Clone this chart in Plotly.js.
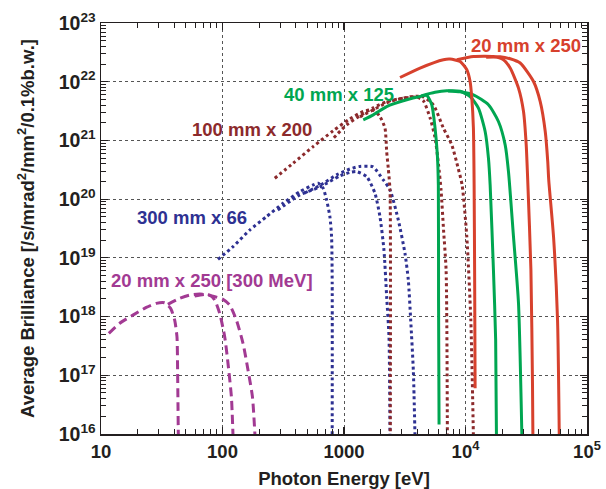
<!DOCTYPE html>
<html>
<head>
<meta charset="utf-8">
<script src="https://cdn.plot.ly/plotly-3.0.1.min.js"></script>
<style>html,body{margin:0;padding:0;background:#fff;}#chart{width:606px;height:489px;}</style>
</head>
<body>
<div id="chart"></div>
<script>
// ---- Data (photon energy in eV, average brilliance) ----
// 20 mm x 250 (red, solid)
const red1E = [2891, 4226, 6577, 7464, 9028, 10250, 10911, 11271, 11618, 11774, 11885, 11998];
const red1B = [1.18e22, 1.71e22, 2.37e22, 2.43e22, 2.21e22, 1.60e22, 1.01e22, 5.26e21, 1.62e21, 1.75e20, 6.2e18, 6.0e16];
const red3E = [8479, 11618, 16982, 20535, 23320, 27300, 30020, 31600, 32510, 34550, 35610, 35880];
const red3B = [2.37e22, 2.69e22, 2.69e22, 2.37e22, 1.71e22, 7.79e21, 3.11e21, 8.4e20, 2.13e20, 6.2e18, 6.3e16, 9e15];
const red5E = [14785, 19290, 23320, 28190, 36290, 41210, 45320, 47530, 48420, 53040, 57230, 59120];
const red5B = [2.61e22, 2.66e22, 2.46e22, 2.08e22, 1.01e22, 4.60e21, 1.42e21, 4.36e20, 2.13e20, 2.29e19, 8.7e17, 9e15];

// 40 mm x 125 (green, solid)
const grn1E = [1440, 1741, 2245, 3282, 4226, 4797, 5277, 5616, 5866, 5978, 6001, 6058];
const grn1B = [2.24e21, 2.73e21, 3.78e21, 4.92e21, 5.60e21, 5.87e21, 4.04e21, 1.62e21, 5.67e20, 1.75e20, 1.91e18, 1.45e16];
const grn3E = [4305, 5616, 7013, 9028, 10911, 12777, 14510, 15450, 15950, 16982, 17710, 17980];
const grn3B = [5.75e21, 6.60e21, 7.0e21, 6.87e21, 5.60e21, 3.55e21, 1.42e21, 4.98e20, 1.75e20, 6.2e18, 3.97e17, 9e15];
const grn5E = [7190, 9028, 11618, 15450, 18670, 21210, 22580, 24830, 27300, 29120];
const grn5B = [6.95e21, 6.73e21, 5.98e21, 4.04e21, 2.10e21, 8.4e20, 2.94e20, 2.29e19, 1.70e18, 9e15];

// 100 mm x 200 (dark red, dotted)
const drd1E = [269.3, 381.3, 557.3, 814.7, 1119, 1440, 1741, 1977, 2174, 2245, 2314, 2390, 2413, 2404];
const drd1B = [2.27e20, 4.09e20, 7.86e20, 1.46e21, 2.33e21, 3.11e21, 3.32e21, 2.55e21, 1.62e21, 6.46e20, 3.36e20, 1.44e20, 1.91e18, 9e15];
const drd3E = [825.4, 1050, 1352, 1741, 2245, 3076, 3967, 4498, 5108, 5616, 6000, 6290, 6597, 6922, 7094];
const drd3B = [1.11e21, 1.84e21, 2.62e21, 3.59e21, 4.60e21, 5.26e21, 5.49e21, 4.73e21, 2.43e21, 1.11e21, 3.83e20, 1.44e20, 2.98e19, 6.2e18, 9e15];
const drd5E = [1352, 1741, 2245, 2891, 3720, 4498, 5438, 6577, 7709, 8690, 9376, 10250, 11060, 11618];
const drd5B = [2.52e21, 3.32e21, 4.37e21, 5.11e21, 5.64e21, 5.53e21, 4.04e21, 1.62e21, 8.4e20, 3.40e20, 1.75e20, 2.29e19, 8.7e17, 9e15];

// 300 mm x 66 (blue, dotted)
const blu1E = [91.8, 122.1, 167.6, 230.1, 315.3, 432.9, 557.3, 612.8, 673.7, 718.9, 765.4, 790.4, 799.4, 799.4];
const blu1B = [9.44e18, 1.55e19, 2.98e19, 5.03e19, 8.51e19, 1.34e20, 1.75e20, 1.87e20, 1.53e20, 9.7e19, 5.03e19, 2.29e19, 3.72e18, 9e15];
const blu3E = [285.2, 432.9, 632.9, 925.2, 1119, 1270, 1536, 1797, 1977, 2132, 2245, 2346, 2390];
const blu3B = [6.54e19, 1.18e20, 1.61e20, 2.49e20, 2.85e20, 2.94e20, 2.42e20, 1.26e20, 5.03e19, 1.36e19, 2.17e18, 4.51e17, 9e15];
const blu5E = [476.1, 632.9, 868.9, 1119, 1352, 1731, 2105, 2390, 2798, 3177, 3383, 3540, 3720, 3841];
const blu5B = [1.28e20, 1.71e20, 2.59e20, 3.27e20, 3.61e20, 3.54e20, 2.13e20, 1.44e20, 4.42e19, 1.19e19, 4.19e18, 8.7e17, 1.22e17, 9e15];

// 20 mm x 250 [300 MeV] (purple, dashed)
const pur1E = [11.6, 14.2, 18.3, 23.6, 28.5, 33.4, 37.4, 40.4, 42.2, 42.7, 43.0, 43.3];
const pur1B = [5.16e17, 7.64e17, 1.06e18, 1.43e18, 1.68e18, 1.72e18, 1.38e18, 8.7e17, 4.51e17, 1.22e17, 3.30e16, 9e15];
const pur3E = [35.5, 44.4, 53.7, 64.9, 78.4, 86.3, 94.8, 104.3, 111.0, 118.4, 122.1];
const pur3B = [1.61e18, 2.04e18, 2.32e18, 2.42e18, 2.32e18, 1.91e18, 1.13e18, 4.51e17, 1.59e17, 4.28e16, 9e15];
const pur5E = [59.0, 71.4, 83.5, 100.9, 114.7, 130.2, 147.6, 162.3, 176.4, 185.3];
const pur5B = [2.23e18, 2.37e18, 2.23e18, 1.96e18, 1.57e18, 8.7e17, 3.48e17, 1.22e17, 4.28e16, 9e15];

// Labels and ticks
const seriesLabels = ['20 mm x 250', '40 mm x 125', '100 mm x 200', '300 mm x 66', '20 mm x 250 [300 MeV]'];
const xTickVals = [10, 100, 1000, 10000, 100000];
const xTickText = ['10', '100', '1000', '10<sup>4</sup>', '10<sup>5</sup>'];
const yTickVals = [1e16, 1e17, 1e18, 1e19, 1e20, 1e21, 1e22, 1e23];
const yTickText = ['10<sup>16</sup>', '10<sup>17</sup>', '10<sup>18</sup>', '10<sup>19</sup>', '10<sup>20</sup>', '10<sup>21</sup>', '10<sup>22</sup>', '10<sup>23</sup>'];
const xTitle = 'Photon Energy [eV]';
const yTitle = 'Average Brilliance [/s/mrad<sup>2</sup>/mm<sup>2</sup>/0.1%b.w.]';

// ---- Styles ----
const C_RED = '#d7412d', C_GRN = '#00a651', C_DRD = '#8c2a2c', C_BLU = '#2e3192', C_PUR = '#a23a93';
const FONT = 'Liberation Sans, Arial, Helvetica, sans-serif';

function tr(x, y, color, dash) {
  return {x: x, y: y, type: 'scatter', mode: 'lines', hoverinfo: 'skip', showlegend: false,
    line: {color: color, width: 3, dash: dash, shape: 'spline', smoothing: 0.6}};
}

const data = [
  tr(pur1E, pur1B, C_PUR, '9px,5px'), tr(pur3E, pur3B, C_PUR, '9px,5px'), tr(pur5E, pur5B, C_PUR, '9px,5px'),
  tr(blu1E, blu1B, C_BLU, 'dot'), tr(blu3E, blu3B, C_BLU, 'dot'), tr(blu5E, blu5B, C_BLU, 'dot'),
  tr(drd1E, drd1B, C_DRD, 'dot'), tr(drd3E, drd3B, C_DRD, 'dot'), tr(drd5E, drd5B, C_DRD, 'dot'),
  tr(grn1E, grn1B, C_GRN, 'solid'), tr(grn3E, grn3B, C_GRN, 'solid'), tr(grn5E, grn5B, C_GRN, 'solid'),
  tr(red1E, red1B, C_RED, 'solid'), tr(red3E, red3B, C_RED, 'solid'), tr(red5E, red5B, C_RED, 'solid')
];

const axisCommon = {
  type: 'log', showline: true, linecolor: '#231f20', linewidth: 1.5, mirror: 'ticks',
  ticks: 'inside', ticklen: 7, tickwidth: 1.2, tickcolor: '#231f20',
  showgrid: true, gridcolor: '#555', gridwidth: 1, griddash: '3px,3px', zeroline: false,
  minor: {dtick: 'D1', ticks: 'inside', ticklen: 5, tickwidth: 1, tickcolor: '#231f20', showgrid: false},
  tickmode: 'array'
};

function ann(text, px, py, color) {
  return {text: text, xref: 'paper', yref: 'paper', x: px, y: py, xanchor: 'center', yanchor: 'middle',
    showarrow: false, font: {family: FONT, size: 18.5, color: color, weight: 'bold'}};
}

const layout = {
  width: 606, height: 489,
  margin: {l: 101, r: 19, t: 23, b: 55},
  paper_bgcolor: '#fff', plot_bgcolor: '#fff',
  font: {family: FONT, size: 18, color: '#231f20', weight: 'bold'},
  xaxis: Object.assign({}, axisCommon, {
    range: [1, 5], tickvals: xTickVals, ticktext: xTickText,
    tickfont: {family: FONT, size: 18.5, color: '#231f20', weight: 'bold'},
    title: {text: xTitle, font: {family: FONT, size: 18.5, color: '#231f20', weight: 'bold'}, standoff: 13}
  }),
  yaxis: Object.assign({}, axisCommon, {
    range: [16, 23], tickvals: yTickVals, ticktext: yTickText,
    tickfont: {family: FONT, size: 19.5, color: '#231f20', weight: 'bold'},
    title: {text: yTitle, font: {family: FONT, size: 18.5, color: '#231f20', weight: 'bold'}, standoff: 19}
  }),
  annotations: [
    ann(seriesLabels[0], 0.8745, 0.945, C_RED),
    ann(seriesLabels[1], 0.4899, 0.827, C_GRN),
    ann(seriesLabels[2], 0.3112, 0.740, C_DRD),
    ann(seriesLabels[3], 0.1876, 0.527, C_BLU),
    ann(seriesLabels[4], 0.2288, 0.373, C_PUR)
  ]
};

Plotly.newPlot('chart', data, layout, {staticPlot: true, displayModeBar: false});
</script>
</body>
</html>
